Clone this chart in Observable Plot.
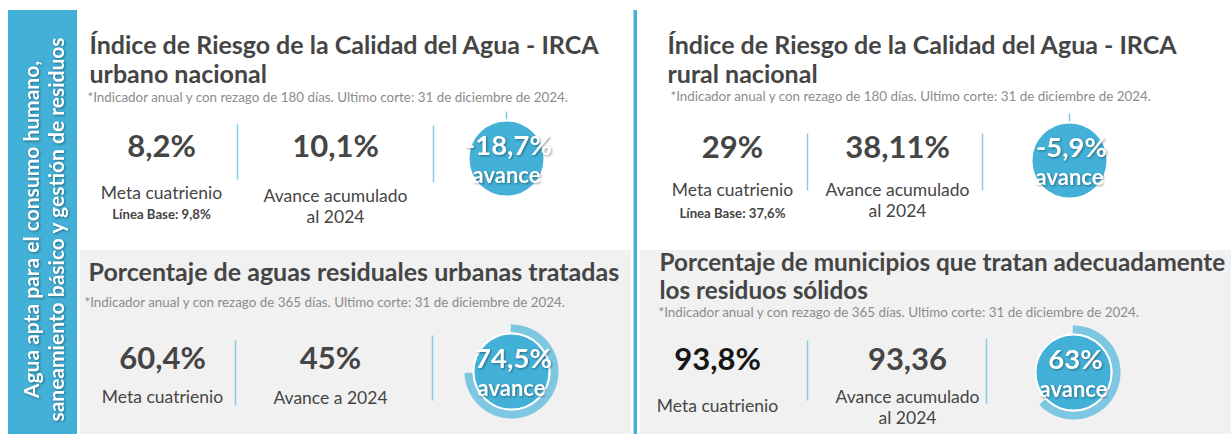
<!DOCTYPE html>
<html>
<head>
<meta charset="utf-8">
<script src="https://cdn.jsdelivr.net/npm/d3@7"></script>
<script src="https://cdn.jsdelivr.net/npm/@observablehq/plot@0.6"></script>
<style>
  html, body { margin: 0; padding: 0; background: #ffffff; }
  svg { display: block; }
</style>
</head>
<body>
<div id="chart"></div>
<script>
// ---------------- DATA ----------------
const sidebarLines = ["Agua apta para el consumo humano,", "saneamiento básico y gestión de residuos"];
const panelTitles = [
  ["Índice de Riesgo de la Calidad del Agua - IRCA", "urbano nacional"],
  ["Índice de Riesgo de la Calidad del Agua - IRCA", "rural nacional"],
  ["Porcentaje de aguas residuales urbanas tratadas"],
  ["Porcentaje de municipios que tratan adecuadamente", "los residuos sólidos"]
];
const panelNotes = [
  "*Indicador anual y con rezago de 180 días. Ultimo corte: 31 de diciembre de 2024.",
  "*Indicador anual y con rezago de 180 días. Ultimo corte: 31 de diciembre de 2024.",
  "*Indicador anual y con rezago de 365 días. Ultimo corte: 31 de diciembre de 2024.",
  "*Indicador anual y con rezago de 365 días. Ultimo corte: 31 de diciembre de 2024."
];
const metaValues = ["8,2%", "29%", "60,4%", "93,8%"];
const metaLabels = ["Meta cuatrienio", "Meta cuatrienio", "Meta cuatrienio", "Meta cuatrienio"];
const baseLines = ["Línea Base: 9,8%", "Línea Base: 37,6%", "", ""];
const avanceValues = ["10,1%", "38,11%", "45%", "93,36"];
const avanceLabels = [
  ["Avance acumulado", "al 2024"],
  ["Avance acumulado", "al 2024"],
  ["Avance a 2024"],
  ["Avance acumulado", "al 2024"]
];
const progressValues = [-18.7, -5.9, 74.5, 63];
const progressLabels = ["-18,7%", "-5,9%", "74,5%", "63%"];
const progressWord = "avance";

// ---------------- LAYOUT (pixels) ----------------
const W = 1231, H = 434;
const WHITE_TXT = "#fffffe"; // marker colour for white text that gets a drop shadow
const C = {
  blue: "#42b0d7", ring: "#7ec7e2", divider: "#86c9e8", text: "#454545",
  note: "#8c8c8c", gray: "#f1f1f1", dark: "#161616"
};
const layout = [
  {tx: 89, ty: [53.5, 82], ts: 25, nx: 87, ny: 101, mx: 161, vy: 156, mly: 198, by: 218,
   d1: [237, 123, 179], ax: 335, aly: [201, 222], d2: [433, 125, 182], g: [506, 158], metaFill: C.text},
  {tx: 667, ty: [53.5, 82], ts: 25, nx: 670, ny: 100.5, mx: 732, vy: 157, mly: 195, by: 217,
   d1: [807, 133, 190], ax: 897, aly: [195, 216], d2: [982, 133, 190], g: [1069, 160], metaFill: C.text},
  {tx: 88, ty: [280], ts: 25, nx: 84, ny: 306, mx: 162, vy: 368, mly: 402, by: 0,
   d1: [235, 340, 405], ax: 330, aly: [403], d2: [432, 335, 400], g: [511, 371], metaFill: C.text},
  {tx: 659, ty: [270.5, 298.5], ts: 24.3, nx: 658, ny: 316, mx: 717, vy: 369, mly: 411, by: 0,
   d1: [807, 340, 400], ax: 907, aly: [402, 423], d2: [986, 338, 403], g: [1073, 372], metaFill: C.dark}
];
const rInner = 37, rRing = 43, ringW = 8;
const S = {note: 13.4, value: 31, label: 17.5, base: 13.2, gVal: 27.5, gWord: 22, side: 21};

// ---------------- BUILD TABLES ----------------
const bgRects = [
  {x1: 8, x2: 77, y1: 10, y2: H, fill: C.blue},
  {x1: 80, x2: 631, y1: 250, y2: H, fill: C.gray},
  {x1: 640, x2: W, y1: 250, y2: H, fill: C.gray},
  {x1: 633.5, x2: 637, y1: 10, y2: H, fill: C.blue}
];

const texts = [];
const dividers = [];
const gauges = [];
const ringPts = [];
const ticks = [];

layout.forEach((L, i) => {
  panelTitles[i].forEach((t, j) => texts.push({x: L.tx, y: L.ty[j], text: t, size: L.ts, weight: 700, fill: C.text, anchor: "start"}));
  texts.push({x: L.nx, y: L.ny, text: panelNotes[i], size: S.note, weight: 400, fill: C.note, anchor: "start"});
  texts.push({x: L.mx, y: L.vy, text: metaValues[i], size: S.value, weight: 700, fill: L.metaFill, anchor: "middle"});
  texts.push({x: L.mx, y: L.mly, text: metaLabels[i], size: S.label, weight: 400, fill: C.text, anchor: "middle"});
  if (baseLines[i]) texts.push({x: L.mx, y: L.by, text: baseLines[i], size: S.base, weight: 700, fill: C.text, anchor: "middle"});
  texts.push({x: L.ax, y: L.vy, text: avanceValues[i], size: S.value, weight: 700, fill: C.text, anchor: "middle"});
  avanceLabels[i].forEach((t, j) => texts.push({x: L.ax, y: L.aly[j], text: t, size: S.label, weight: 400, fill: C.text, anchor: "middle"}));
  dividers.push({x: L.d1[0], y1: L.d1[1], y2: L.d1[2]});
  dividers.push({x: L.d2[0], y1: L.d2[1], y2: L.d2[2]});
  const [cx, cy] = L.g;
  gauges.push({x: cx, y: cy, value: progressValues[i], label: progressLabels[i], word: progressWord});
  ticks.push({x1: cx, x2: cx, y1: cy - rRing - ringW / 2, y2: cy - rRing + ringW / 2});
  const p = Math.max(0, progressValues[i]) / 100;
  if (p > 0) {
    const n = 240;
    for (let k = 0; k <= n; k++) {
      const a = 2 * Math.PI * p * k / n;
      ringPts.push({id: i, x: cx + rRing * Math.sin(a), y: cy - rRing * Math.cos(a)});
    }
  }
});

const gaugeText = [];
gauges.forEach(g => {
  gaugeText.push({x: g.x + 2, y: g.y - 4, text: g.label, size: S.gVal});
  gaugeText.push({x: g.x, y: g.y + 24, text: g.word, size: S.gWord});
});

const sideText = sidebarLines.map((t, j) => ({x: [38, 63][j], y: 229, text: t}));

// ---------------- PLOT ----------------
const chart = Plot.plot({
  width: W, height: H, margin: 0,
  x: {domain: [0, W], range: [0, W], axis: null},
  y: {domain: [0, H], range: [0, H], axis: null},
  style: {fontFamily: "Lato, 'Noto Sans', sans-serif", background: "#ffffff"},
  marks: [
    Plot.rect(bgRects, {x1: "x1", x2: "x2", y1: "y1", y2: "y2", fill: d => d.fill}),
    Plot.link(dividers, {x1: "x", x2: "x", y1: "y1", y2: "y2", stroke: C.divider, strokeWidth: 1.5}),
    Plot.link(ticks, {x1: "x1", x2: "x2", y1: "y1", y2: "y2", stroke: C.ring, strokeWidth: 1.5}),
    Plot.line(ringPts, {x: "x", y: "y", z: "id", stroke: C.ring, strokeWidth: ringW, strokeLinecap: "butt"}),
    Plot.dot(gauges, {x: "x", y: "y", r: rInner + 1, fill: C.blue, stroke: "#ffffff", strokeWidth: 2}),
    // sidebar text
    Plot.text(sideText, {x: "x", y: "y", text: "text", rotate: -90, fill: WHITE_TXT, fontSize: S.side, fontWeight: 700, lineAnchor: "bottom", textAnchor: "middle"}),
    // panel texts (one mark per style group)
    ...d3.groups(texts, d => `${d.size}|${d.weight}|${d.fill}|${d.anchor}`).map(([k, rows]) =>
      Plot.text(rows, {x: "x", y: "y", text: "text", fontSize: rows[0].size, fontWeight: rows[0].weight,
        fill: rows[0].fill, textAnchor: rows[0].anchor, lineAnchor: "bottom"})),
    // gauge labels
    ...d3.groups(gaugeText, d => d.size).map(([s, rows]) =>
      Plot.text(rows, {x: "x", y: "y", text: "text", fontSize: s, fontWeight: 700, fill: WHITE_TXT, lineAnchor: "bottom", textAnchor: "middle"}))
  ]
});
// soft drop shadow on the white labels (as in the reference)
chart.querySelectorAll(`g[fill="${WHITE_TXT}"]`).forEach(g => {
  g.style.filter = "drop-shadow(1px 1.5px 1px rgba(0,0,0,0.38))";
});
document.getElementById("chart").appendChild(chart);
</script>
</body>
</html>
